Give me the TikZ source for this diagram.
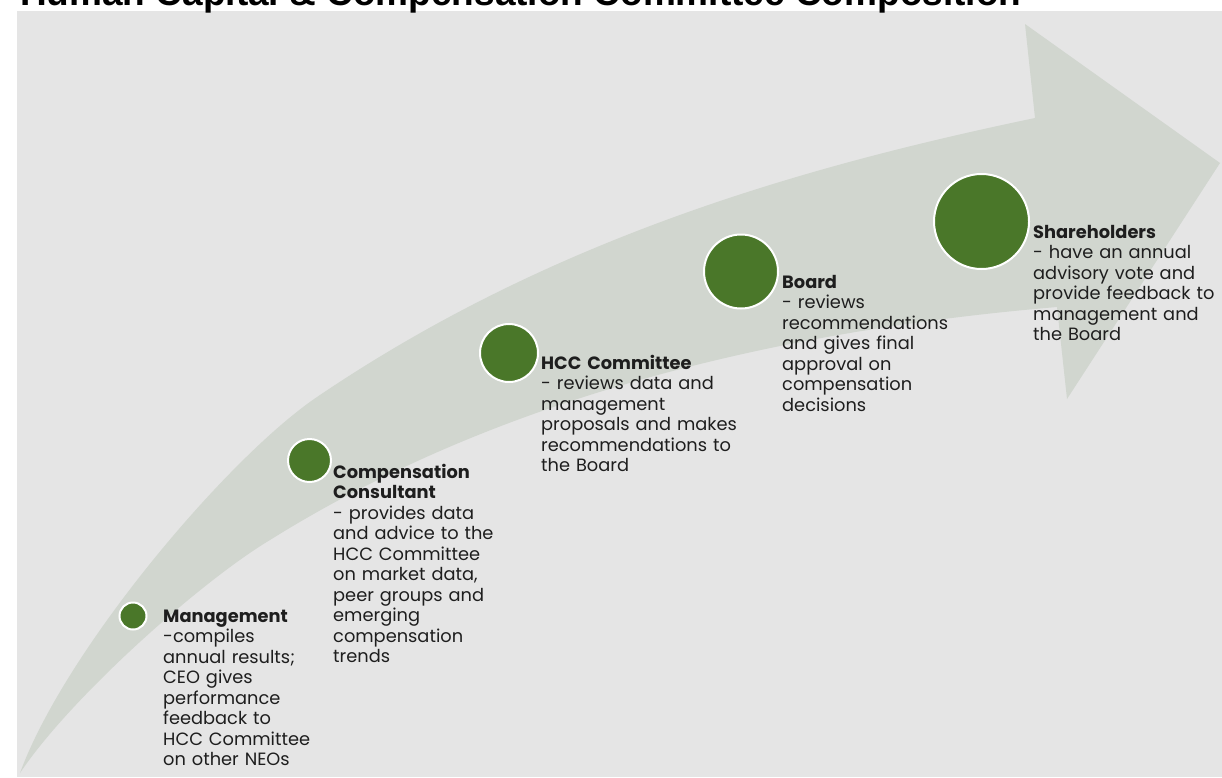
\documentclass[tikz,border=0pt]{standalone}
\usepackage{fontspec}
\setmainfont{Poppins}
\newfontfamily\titlefont{Liberation Sans}
\definecolor{bgc}{HTML}{E5E5E5}
\definecolor{bandc}{HTML}{D1D6CF}
\definecolor{dotc}{HTML}{4A7729}
\definecolor{txtc}{HTML}{1E1E1E}
\tikzset{
  dot/.style={circle, fill=dotc, draw=white, line width=2pt, inner sep=0pt},
  lbl/.style={anchor=base west, inner sep=0pt, text width=230pt, align=left,
    text=txtc, font=\fontsize{17.8}{20.5}\selectfont},
}
\begin{document}
\begin{tikzpicture}[x=1pt,y=-1pt]
\useasboundingbox (0,0) rectangle (1222,777);
\fill[bgc] (17,11) rectangle (1222,777);
\node[anchor=base west, inner sep=0pt, font=\titlefont\bfseries\fontsize{37}{40}\selectfont] (title) at (20,5) {Human Capital \& Compensation Committee Composition};
% curved arrow
\fill[bandc] (20,773) .. controls (65,650) and (227,458) .. (317,397)
  .. controls (547,241) and (795,168) .. (1035,118)
  -- (1025,24) -- (1220,163) -- (1067,399) -- (1057,307)
  .. controls (797,329) and (510,390) .. (270,540)
  .. controls (200,582) and (70,698) .. (20,773) -- cycle;
% dots
\node[dot, minimum size=27pt] (m) at (133,616) {};
\node[dot, minimum size=43pt] (c) at (309.5,460.5) {};
\node[dot, minimum size=58pt] (h) at (509,353) {};
\node[dot, minimum size=74pt] (b) at (741,271.5) {};
\node[dot, minimum size=95pt] (s) at (981.5,221.5) {};
% labels
\node[lbl] (mt) at (163,622) {\textbf{Management}\\-compiles\\annual results;\\CEO gives\\performance\\feedback to\\HCC Committee\\on other NEOs};
\node[lbl] (ct) at (333,478) {\textbf{Compensation}\\\textbf{Consultant}\\- provides data\\and advice to the\\HCC Committee\\on market data,\\peer groups and\\emerging\\compensation\\trends};
\node[lbl] (ht) at (541,369) {\textbf{HCC Committee}\\- reviews data and\\management\\proposals and makes\\recommendations to\\the Board};
\node[lbl] (bt) at (782,288) {\textbf{Board}\\- reviews\\recommendations\\and gives final\\approval on\\compensation\\decisions};
\node[lbl] (st) at (1033,238) {\textbf{Shareholders}\\- have an annual\\advisory vote and\\provide feedback to\\management and\\the Board};
\end{tikzpicture}
\end{document}
